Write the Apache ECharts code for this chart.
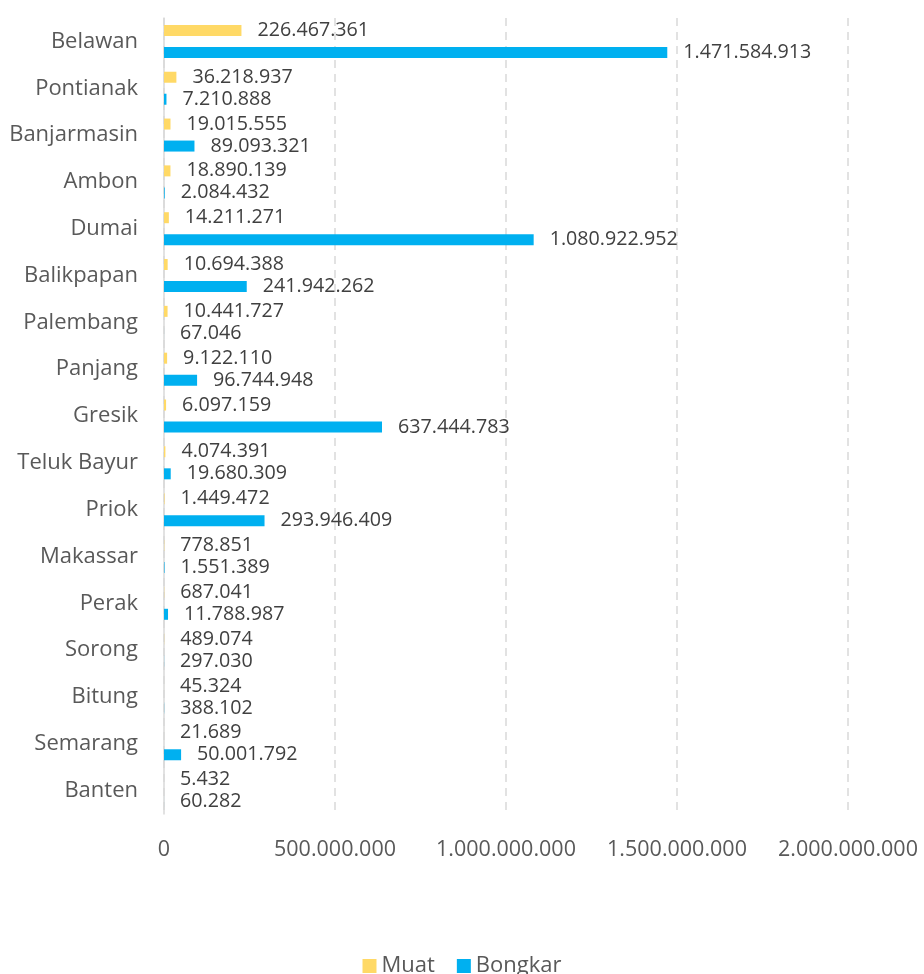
<!DOCTYPE html>
<html>
<head>
<meta charset="utf-8">
<script src="https://cdn.jsdelivr.net/npm/echarts@6/dist/echarts.min.js"></script>
<style>html,body{margin:0;padding:0;background:#fff;}#c{width:924px;height:974px;}</style>
</head>
<body>
<div id="c"></div>
<script>
const categories = ['Belawan','Pontianak','Banjarmasin','Ambon','Dumai','Balikpapan','Palembang','Panjang','Gresik','Teluk Bayur','Priok','Makassar','Perak','Sorong','Bitung','Semarang','Banten'];
const muat = [226467361,36218937,19015555,18890139,14211271,10694388,10441727,9122110,6097159,4074391,1449472,778851,687041,489074,45324,21689,5432];
const bongkar = [1471584913,7210888,89093321,2084432,1080922952,241942262,67046,96744948,637444783,19680309,293946409,1551389,11788987,297030,388102,50001792,60282];
const xTicks = [0,500000000,1000000000,1500000000,2000000000];

function fmt(v){ return String(v).replace(/\B(?=(\d{3})+(?!\d))/g,'.'); }
const FONT = '"Open Sans", "Noto Sans", sans-serif';

const chart = echarts.init(document.getElementById('c'), null, {renderer:'canvas'});
const labelStyle = {show:true, position:'right', distance:16, color:'#404040', fontSize:19.7, fontFamily:FONT, formatter:p=>fmt(p.value)};
chart.setOption({
  animation:false,
  backgroundColor:'#fff',
  grid:{left:164, right:76, top:18, bottom:160, containLabel:false},
  legend:{top:950, left:'center', icon:'rect', itemWidth:14, itemHeight:14, itemGap:22,
    textStyle:{color:'#595959', fontSize:22, fontFamily:FONT}, data:['Muat','Bongkar']},
  xAxis:{type:'value', min:xTicks[0], max:xTicks[xTicks.length-1], interval:500000000,
    axisLine:{show:false}, axisTick:{show:false},
    axisLabel:{color:'#595959', fontSize:21.5, fontFamily:FONT, margin:25, formatter:v=>fmt(v)},
    splitLine:{show:true, lineStyle:{color:'#d9d9d9', type:[8,6], width:1.5}}},
  yAxis:{type:'category', data:categories, inverse:true,
    axisLine:{show:true, lineStyle:{color:'#d9d9d9', width:1.5}}, axisTick:{show:false},
    axisLabel:{color:'#595959', fontSize:22, fontFamily:FONT, margin:26}},
  series:[
    {name:'Muat', type:'bar', data:muat, barWidth:11, barGap:'100%', itemStyle:{color:'#FFD966'}, label:labelStyle},
    {name:'Bongkar', type:'bar', data:bongkar, barWidth:11, barGap:'100%', itemStyle:{color:'#00B0F0'}, label:labelStyle}
  ]
});
</script>
</body>
</html>
